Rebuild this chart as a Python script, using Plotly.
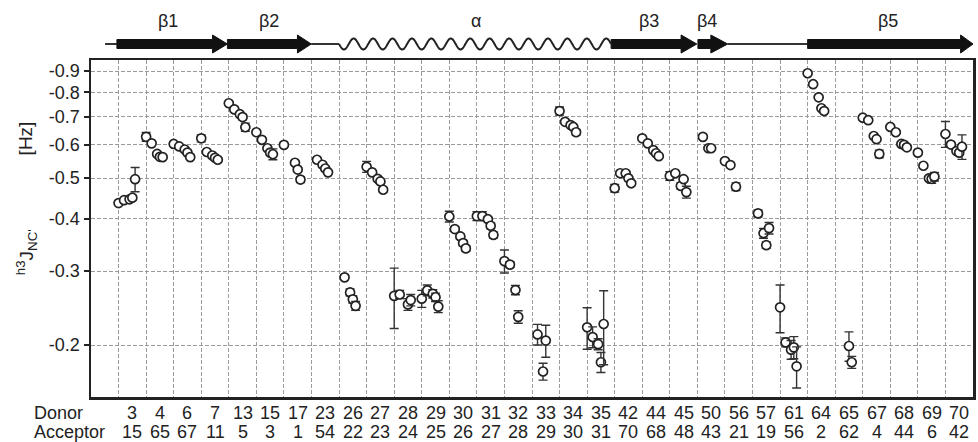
import numpy as np
import plotly.graph_objects as go

# ---------------- data ----------------
donors = [3, 4, 6, 7, 13, 15, 17, 23, 26, 27, 28, 29, 30, 31, 32, 33, 34, 35,
          42, 44, 45, 50, 56, 57, 61, 64, 65, 67, 68, 69, 70]
acceptors = [15, 65, 67, 11, 5, 3, 1, 54, 22, 23, 24, 25, 26, 27, 28, 29, 30, 31,
             70, 68, 48, 43, 21, 19, 56, 2, 62, 4, 44, 6, 42]

N = None
# |h3J_NC'| (Hz) for five measurement series (plotted as negative values)
j_s0 = [.436, .627, .603, .622, .754, .643, .600, N, N, .532, .262, .258, .405, .406, .317, N,
        .7225, .2205, .473, .622, .506, N, .549, N, .246, .889, N, .6965, .662, .575, .637]
j_s1 = [.443, .605, .595, .577, .729, .617, N, .553, .290, .516, .264, .270, .378, .406, .311, .212,
        .681, .209, .5135, .605, .5135, .627, .537, .412, .203, .837, N, .687, .643, .535, .601]
j_s2 = [.445, .571, .585, .566, .710, .589, .544, .538, .267, .498, N, .265, .363, .399, .2705, .173,
        .669, .201, .5135, .583, .479, .589, .477, .3695, .195, .779, N, .630, .603, .4995, .580]
j_s3 = [.449, .562, .575, .559, .699, .575, .524, .527, .257, .491, .250, .260, .350, .385, .2335, .205,
        .662, .182, .4995, .573, .497, .589, N, .346, .1975, .7335, .199, .619, .600, .498, .575]
j_s4 = [.497, .561, .561, .553, .661, .570, .496, .516, .248, .469, .256, .247, .340, .366, N, N,
        .643, .2245, .486, .564, .463, N, N, .380, .178, .7225, .182, .571, .592, .504, .594]

err_s0 = [.004, .015, .004, .012, .006, .005, .005, 0, 0, .016, .043, .012, .012, .01, .02, 0,
          .016, .025, .01, .005, .012, 0, .005, 0, .032, .005, 0, .005, .005, .005, .045]
err_s1 = [.004, .005, .004, .004, .006, .005, 0, .005, .004, .005, .006, .008, .005, .01, .005, .012,
          .005, .012, .005, .005, .005, .005, .005, .008, .005, .005, 0, .005, .005, .005, .005]
err_s2 = [.004, .005, .004, .004, .005, .005, .005, .005, .005, .005, 0, .006, .005, .005, .007, .008,
          .005, .006, .005, .005, .008, .005, .01, .01, .01, .005, 0, .005, .005, .005, .005]
err_s3 = [.006, .005, .005, .004, .01, .005, .005, .005, .005, .005, .008, .006, .005, .006, .008, .018,
          .006, .01, .005, .005, .006, .005, 0, .006, .012, .005, .016, .006, .008, .012, .006]
err_s4 = [.033, .005, .005, .004, .015, .017, .008, .005, .006, .005, .008, .008, .005, .006, 0, 0,
          .01, .045, .006, .005, .015, 0, 0, .012, .02, .006, .006, .012, .008, .012, .04]

series = [j_s0, j_s1, j_s2, j_s3, j_s4]
errors = [err_s0, err_s1, err_s2, err_s3, err_s4]
series_offset = [0.0, 0.2, 0.4, 0.5, 0.6]   # within-category shift of each series

y_ticks = [0.2, 0.3, 0.4, 0.5, 0.6, 0.7, 0.8, 0.9]

# secondary structure (in category-axis units)
ss_strands = [("β1", 0.94, 4.41, 4.95), ("β2", 4.95, 7.49, 7.99),
              ("β3", 18.87, 21.41, 21.98), ("β4", 22.02, 22.49, 23.10),
              ("β5", 26.0, 31.55, 32.0)]
ss_loops = [(0.51, 0.94), (7.99, 9.0), (23.10, 26.0)]
ss_helix = ("α", 9.0, 18.87)
ss_label_x = {"β1": 2.8, "β2": 6.45, "α": 13.95, "β3": 20.25, "β4": 22.35, "β5": 28.9}

# ---------------- figure ----------------
FONT = "Liberation Sans, Arial, Helvetica, sans-serif"
INK = "#222222"
n_cat = len(donors)
X_MAX = n_cat + 1

fig = go.Figure()
for vals, errs, off in zip(series, errors, series_offset):
    xs = [i + 1 + off for i in range(n_cat)]
    fig.add_trace(go.Scatter(
        x=xs, y=vals, mode="markers",
        marker=dict(symbol="circle", size=9, color="white",
                    line=dict(color=INK, width=1.7)),
        error_y=dict(type="data", array=errs, visible=True,
                     color="#333333", thickness=1.4, width=4.5),
        showlegend=False, hoverinfo="skip"))

fig.update_layout(
    width=978, height=442,
    margin=dict(l=91, r=2, t=60, b=45),
    paper_bgcolor="white", plot_bgcolor="white",
    font=dict(family=FONT, size=18, color=INK),
    showlegend=False,
)

fig.update_xaxes(
    range=[0, X_MAX], tickmode="array", tickvals=list(range(1, X_MAX)),
    showticklabels=False, ticks="", showgrid=True, gridcolor="#9a9a9a",
    gridwidth=1, griddash="4px,2px", zeroline=False,
    showline=True, mirror=True, linewidth=2.5, linecolor=INK)

fig.update_yaxes(
    type="log", range=[np.log10(0.1504), np.log10(0.956)],
    tickmode="array", tickvals=y_ticks,
    ticktext=["-%.1f" % v for v in y_ticks],
    tickfont=dict(size=18, family=FONT, color=INK),
    ticks="outside", ticklen=5, tickwidth=2, tickcolor=INK,
    showgrid=True, gridcolor="#9a9a9a", gridwidth=1, griddash="4px,2px",
    zeroline=False, showline=True, mirror=True, linewidth=2.5, linecolor=INK)

annotations = []
# category labels
for i, (d, a) in enumerate(zip(donors, acceptors)):
    annotations.append(dict(x=i + 1.5, xref="x", y=-0.047, yref="paper", text=str(d),
                            showarrow=False, xanchor="center", yanchor="middle",
                            font=dict(size=18, family=FONT, color=INK)))
    annotations.append(dict(x=i + 1.5, xref="x", y=-0.105, yref="paper", text=str(a),
                            showarrow=False, xanchor="center", yanchor="middle",
                            font=dict(size=18, family=FONT, color=INK)))
annotations.append(dict(x=-0.067, xref="paper", y=-0.047, yref="paper", text="Donor",
                        showarrow=False, xanchor="left", yanchor="middle",
                        font=dict(size=18, family=FONT, color=INK)))
annotations.append(dict(x=-0.067, xref="paper", y=-0.105, yref="paper", text="Acceptor",
                        showarrow=False, xanchor="left", yanchor="middle",
                        font=dict(size=18, family=FONT, color=INK)))
# y-axis title pieces
annotations.append(dict(x=-0.0746, xref="paper", y=0.768, yref="paper", text="[Hz]",
                        textangle=-90, showarrow=False, xanchor="center", yanchor="middle",
                        font=dict(size=19, family=FONT, color=INK)))
annotations.append(dict(x=-0.0735, xref="paper", y=0.43, yref="paper",
                        text="<sup>h3</sup>J<sub>NC'</sub>",
                        textangle=-90, showarrow=False, xanchor="center", yanchor="middle",
                        font=dict(size=19, family=FONT, color=INK)))

# secondary structure drawing (paper coordinates)
PH = 337.0
yc = 1.0 + 16.0 / PH
body = 4.5 / PH
head = 9.0 / PH
label_y = 376.0 / PH
shapes = []

def px(xv):
    return xv / X_MAX

for (x0, x1) in ss_loops:
    shapes.append(dict(type="line", xref="paper", yref="paper", x0=px(x0), x1=px(x1),
                       y0=yc, y1=yc, line=dict(color="#333333", width=2)))
for (lab, xs, xh, xe) in ss_strands:
    path = ("M {a},{b1} L {h},{b1} L {h},{h1} L {e},{c} L {h},{h2} L {h},{b2} L {a},{b2} Z"
            .format(a=px(xs), h=px(xh), e=px(xe), c=yc,
                    b1=yc + body, b2=yc - body, h1=yc + head, h2=yc - head))
    shapes.append(dict(type="path", xref="paper", yref="paper", path=path,
                       fillcolor="#111111", line=dict(color="#111111", width=1)))
    annotations.append(dict(x=ss_label_x[lab], xref="x", y=label_y,
                            yref="paper", text=lab, showarrow=False,
                            xanchor="center", yanchor="middle",
                            font=dict(size=18, family=FONT, color=INK)))
# helix wave
hl, hx0, hx1 = ss_helix
n_per = 14
t = np.linspace(0.0, 1.0, 561)
wx = px(hx0) + (px(hx1) - px(hx0)) * t
wy = yc - (5.5 / PH) * np.sin(2 * np.pi * n_per * t)
hpath = "M " + " L ".join("%.5f,%.5f" % (a, b) for a, b in zip(wx, wy))
shapes.append(dict(type="path", xref="paper", yref="paper", path=hpath,
                   line=dict(color="#222222", width=2)))
annotations.append(dict(x=ss_label_x[hl], xref="x", y=label_y, yref="paper", text=hl,
                        showarrow=False, xanchor="center", yanchor="middle",
                        font=dict(size=18, family=FONT, color=INK)))

fig.update_layout(annotations=annotations, shapes=shapes)
fig.write_html("out.html",
               config={"displayModeBar": False, "staticPlot": True},
               post_script="document.body.style.margin='0px';"
                           "document.body.style.padding='0px';"
                           "document.body.style.overflow='hidden';")
